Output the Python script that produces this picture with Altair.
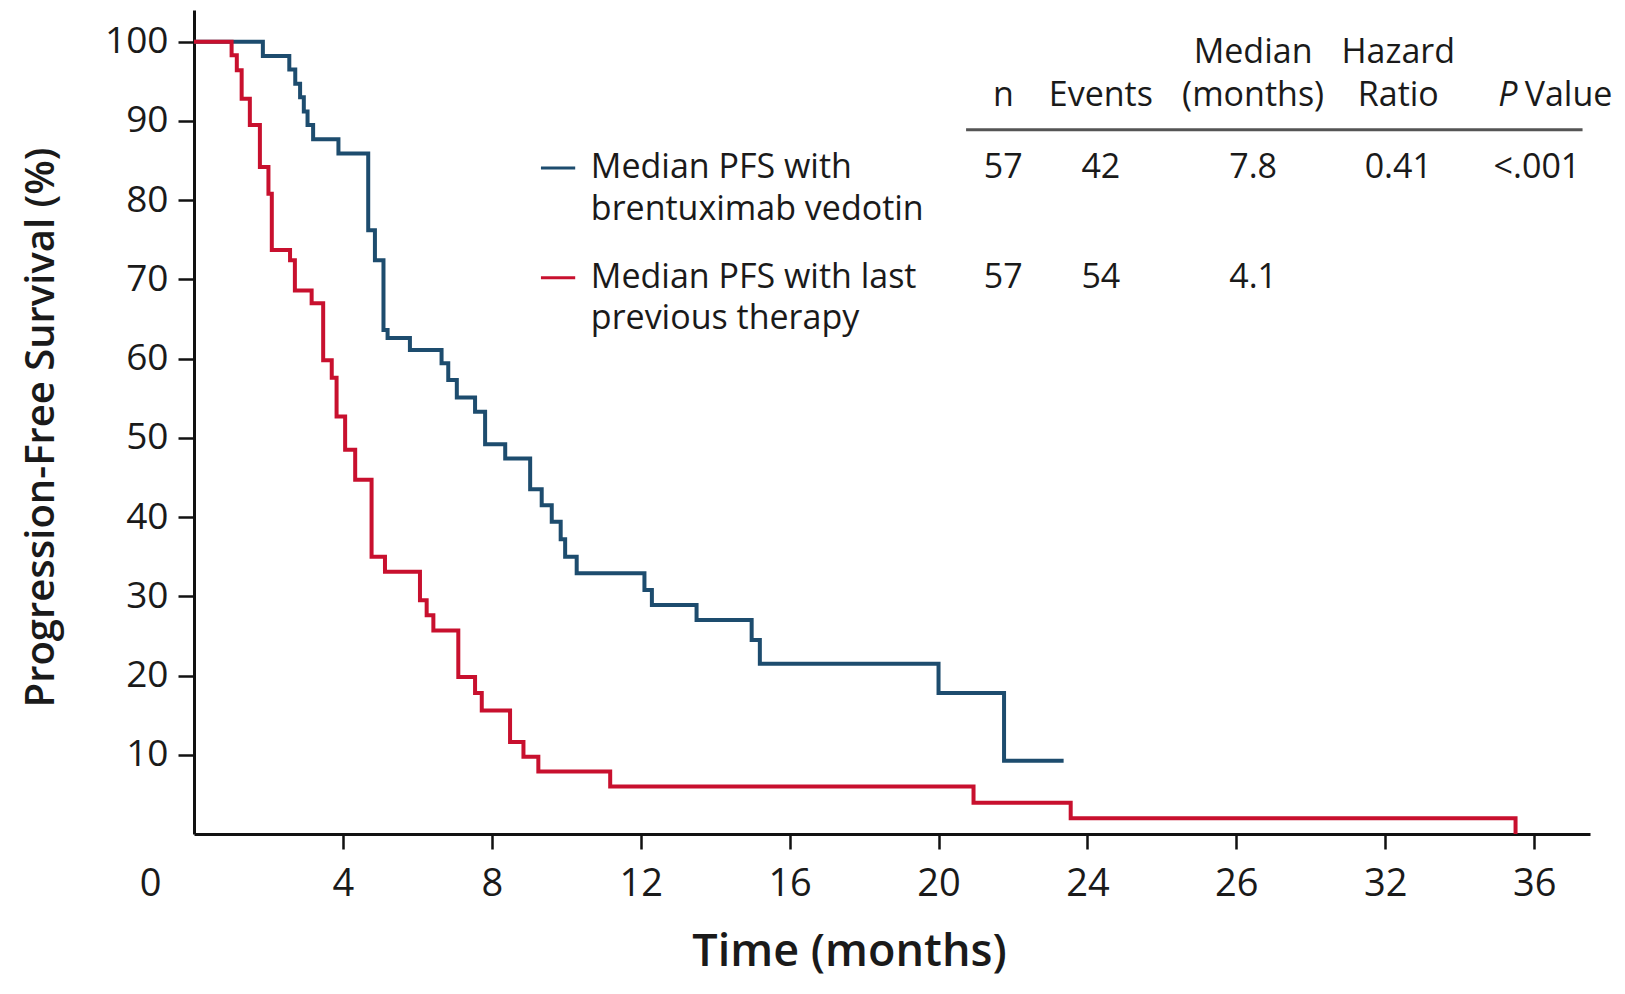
import altair as alt
import pandas as pd

# ---- Kaplan-Meier curves (months, % progression-free) ----
bv_time = [0, 1.85, 2.56, 2.72, 2.85, 2.95, 3.05, 3.2, 3.88, 4.68, 4.86, 5.09, 5.2, 5.8,
           6.65, 6.83, 7.06, 7.55, 7.82, 8.36, 9.03, 9.34, 9.61, 9.85, 9.97, 10.28,
           12.1, 12.3, 13.5, 14.98, 15.2, 20.0, 21.76, 23.36]
bv_surv = [100, 98.2, 96.5, 94.7, 93.0, 91.2, 89.5, 87.7, 85.9, 76.2, 72.4, 63.6, 62.6, 61.1,
           59.4, 57.3, 55.1, 53.3, 49.2, 47.4, 43.5, 41.5, 39.4, 37.2, 35.0, 32.9,
           30.8, 28.9, 27.0, 24.5, 21.5, 17.8, 9.25, 9.25]

lpt_time = [0, 1.01, 1.15, 1.28, 1.5, 1.77, 2.0, 2.09, 2.58, 2.71, 3.16, 3.47, 3.70, 3.83,
            4.06, 4.33, 4.77, 5.13, 6.07, 6.25, 6.43, 7.1, 7.55, 7.73, 8.49, 8.85, 9.25,
            11.18, 20.94, 23.55, 35.5]
lpt_surv = [100, 98.3, 96.4, 92.8, 89.5, 84.2, 80.8, 73.7, 72.4, 68.6, 67.0, 59.8, 57.6, 52.7,
            48.5, 44.7, 35.0, 33.1, 29.5, 27.6, 25.7, 19.8, 17.8, 15.6, 11.6, 9.75, 7.9,
            6.0, 3.95, 1.98, 0]

series_names = ["Median PFS with brentuximab vedotin", "Median PFS with last previous therapy"]
series_colors = ["#1d4c6e", "#c8102e"]

# ---- axes ----
x_ticks = [0, 4, 8, 12, 16, 20, 24, 28, 32, 36]
x_tick_labels = ["0", "4", "8", "12", "16", "20", "24", "26", "32", "36"]
y_ticks = [10, 20, 30, 40, 50, 60, 70, 80, 90, 100]

# ---- summary table ----
legend_lines = [["Median PFS with", "brentuximab vedotin"], ["Median PFS with last", "previous therapy"]]
col_headers_top = ["", "", "Median", "Hazard"]
col_headers_bottom = ["n", "Events", "(months)", "Ratio"]
row_values = [["57", "42", "7.8", "0.41"], ["57", "54", "4.1", ""]]
p_values = ["<.001", ""]

# layout of the table in data units (months / percent)
col_x = [21.74, 24.36, 28.45, 32.35]
head_y_top, head_y_bottom = 98.6, 93.1
rule_y, rule_x0, rule_x1 = 88.9, 20.74, 37.3
row_y = [84.05, 70.2]
row_line2_y = [78.7, 64.95]
dash_x0, dash_x1, text_x = 9.32, 10.24, 10.66
p_right_x = 37.24

FONT = "Open Sans"
TXT = "#1a1a1a"

curves = pd.concat([
    pd.DataFrame({"t": bv_time, "s": bv_surv, "g": series_names[0], "o": range(len(bv_time))}),
    pd.DataFrame({"t": lpt_time, "s": lpt_surv, "g": series_names[1], "o": range(len(lpt_time))}),
])

label_expr = "datum.label"
for v, lab in zip(x_ticks, x_tick_labels):
    if str(v) != lab:
        label_expr = f"datum.value == {v} ? '{lab}' : " + label_expr

xscale = alt.Scale(domain=[0, 37.5], nice=False, zero=False)
yscale = alt.Scale(domain=[0, 104], nice=False)

x_axis = alt.Axis(
    values=x_ticks, labelExpr=label_expr, grid=False,
    tickSize=15, tickWidth=2.5, domainWidth=3, domainColor="#111",
    tickColor={"condition": {"test": "datum.value == 0", "value": "transparent"}, "value": "#111"},
    labelOffset={"condition": {"test": "datum.value == 0", "value": -44}, "value": 0},
    labelFont="Liberation Sans Narrow, Open Sans", labelFontSize=38, labelColor=TXT,
    labelPadding=16, labelOverlap=False, labelFlush=False,
    title="Time (months)", titleFont=FONT, titleFontSize=45, titleFontWeight=600, titleColor=TXT,
    titleX=655, titleY=131, titleBaseline="alphabetic", titleAnchor="start", titleAlign="center",
)
y_axis = alt.Axis(
    values=y_ticks, grid=False,
    tickSize=16, tickWidth=2.5, domainWidth=3, domainColor="#111", tickColor="#111",
    labelFont=FONT, labelFontSize=37, labelColor=TXT, labelPadding=10, labelOverlap=False,
    labelFlush=False,
    title="Progression-Free Survival (%)", titleFont=FONT, titleFontSize=40, titleFontWeight=600,
    titleColor=TXT, titleX=-153, titleY=417, titleBaseline="middle", titleAngle=-90,
    titleAnchor="start", titleAlign="center",
)

lines = alt.Chart(curves).mark_line(interpolate="step-after", strokeWidth=4).encode(
    x=alt.X("t:Q", scale=xscale, axis=x_axis),
    y=alt.Y("s:Q", scale=yscale, axis=y_axis),
    color=alt.Color("g:N", scale=alt.Scale(domain=series_names, range=series_colors), legend=None),
    order="o:Q",
)

# legend dashes
dash_df = pd.DataFrame({"x0": [dash_x0] * 2, "x1": [dash_x1] * 2, "y": row_y, "g": series_names})
dashes = alt.Chart(dash_df).mark_rule(strokeWidth=3).encode(
    x=alt.X("x0:Q", scale=xscale), x2="x1:Q", y=alt.Y("y:Q", scale=yscale),
    color=alt.Color("g:N", scale=alt.Scale(domain=series_names, range=series_colors), legend=None),
)

# header rule
rule_df = pd.DataFrame({"x0": [rule_x0], "x1": [rule_x1], "y": [rule_y]})
hrule = alt.Chart(rule_df).mark_rule(strokeWidth=3, color="#555").encode(
    x=alt.X("x0:Q", scale=xscale), x2="x1:Q", y=alt.Y("y:Q", scale=yscale),
)

# text cells
center_rows, left_rows, right_rows = [], [], []
for i, (top, bot) in enumerate(zip(col_headers_top, col_headers_bottom)):
    if top:
        center_rows.append({"x": col_x[i], "y": head_y_top, "t": top})
    center_rows.append({"x": col_x[i], "y": head_y_bottom, "t": bot})
for r, vals in enumerate(row_values):
    for i, v in enumerate(vals):
        if v:
            center_rows.append({"x": col_x[i], "y": row_y[r], "t": v})
    if p_values[r]:
        right_rows.append({"x": p_right_x, "y": row_y[r], "t": p_values[r]})
    left_rows.append({"x": text_x, "y": row_y[r], "t": legend_lines[r][0]})
    left_rows.append({"x": text_x, "y": row_line2_y[r], "t": legend_lines[r][1]})

right_rows.append({"x": 38.1, "y": head_y_bottom, "t": "Value"})


def text_layer(rows, align, **kw):
    return alt.Chart(pd.DataFrame(rows)).mark_text(
        align=align, baseline="middle", font=FONT, fontSize=34, color=TXT, **kw
    ).encode(x=alt.X("x:Q", scale=xscale), y=alt.Y("y:Q", scale=yscale), text="t:N")


p_italic = alt.Chart(pd.DataFrame([{"x": 35.55, "y": head_y_bottom, "t": "P"}])).mark_text(
    align="right", baseline="middle", font=FONT, fontSize=34, color=TXT, fontStyle="italic"
).encode(x=alt.X("x:Q", scale=xscale), y=alt.Y("y:Q", scale=yscale), text="t:N")

chart = alt.layer(
    lines, dashes, hrule,
    text_layer(center_rows, "center"),
    text_layer(left_rows, "left"),
    text_layer(right_rows, "right"),
    p_italic,
).properties(
    width=1396, height=824,
    autosize=alt.AutoSizeParams(type="none"),
    padding={"left": 186, "top": 2, "right": 27, "bottom": 146},
    background="white",
).configure_view(stroke=None)

chart.save("out.html", embed_options={"renderer": "svg", "actions": False})
